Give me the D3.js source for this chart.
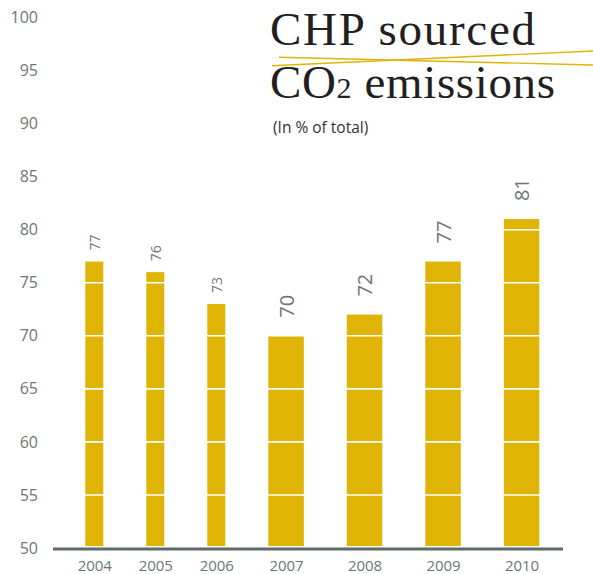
<!DOCTYPE html>
<html><head><meta charset="utf-8">
<script src="https://cdn.jsdelivr.net/npm/d3@7"></script>
<style>body{margin:0;background:#fff}svg{display:block}</style>
</head><body>
<svg id="c" width="593" height="574"></svg>
<script>
// ---- data ----
const years = ["2004","2005","2006","2007","2008","2009","2010"];
const values = [77, 76, 73, 70, 72, 77, 81];
const yTicks = [50, 55, 60, 65, 70, 75, 80, 85, 90, 95, 100];
const titleLine1 = "CHP sourced";
const titleLine2 = ["CO", "2", " emissions"];
const subtitle = "(In % of total)";

// ---- style ----
const barW = [18, 18, 18, 35.5, 35.5, 35.5, 35.5];
const barGap = 43;
const yellow = "#dfb405";
const grey = "#6b7874";
const axisCol = "#5e6b68";

const svg = d3.select("#c");
const y = d3.scaleLinear().domain([50, 100]).range([548, 17.5]);

// cumulative layout: bars separated by a constant gap
const lefts = [];
let acc = 0;
barW.forEach((w, i) => { lefts.push(acc); acc += w + barGap; });
const total = acc - barGap;
const xs = d3.scaleLinear().domain([0, total]).range([85.3, 85.3 + total]);
const xCenter = d3.scaleOrdinal().domain(years).range(years.map((_, i) => xs(lefts[i] + barW[i] / 2)));

// bars
svg.append("g").selectAll("rect").data(values).join("rect")
  .attr("x", (d, i) => xs(lefts[i]))
  .attr("width", (d, i) => barW[i])
  .attr("y", d => y(d))
  .attr("height", d => y(50) - 2 - y(d))
  .attr("fill", yellow);

// white grid lines over bars
svg.append("g").selectAll("line").data(yTicks.filter(t => t > 50 && t < 100)).join("line")
  .attr("x1", 53).attr("x2", 563)
  .attr("y1", d => y(d)).attr("y2", d => y(d))
  .attr("stroke", "#fff").attr("stroke-width", 1.6);

// value labels
svg.append("g").selectAll("text").data(values).join("text")
  .attr("transform", (d, i) => {
    const cx = xCenter(years[i]);
    const off = barW[i] < 30 ? 11 : 18;
    return `translate(${cx},${y(d) - off}) rotate(-90)`;
  })
  .attr("text-anchor", "start")
  .attr("dominant-baseline", "central")
  .attr("font-family", "Open Sans")
  .attr("font-size", (d, i) => barW[i] < 30 ? 14 : 20)
  .attr("fill", grey)
  .text(d => d);

// y axis labels
const yAxis = svg.append("g").attr("transform", "translate(38,0)")
  .call(d3.axisLeft(y).tickValues(yTicks).tickSize(0).tickPadding(0));
yAxis.select(".domain").remove();
yAxis.selectAll("text").attr("font-family", "Open Sans").attr("font-size", 16).attr("fill", grey);

// x axis line
svg.append("line").attr("x1", 53).attr("x2", 563)
  .attr("y1", y(50) + 1).attr("y2", y(50) + 1)
  .attr("stroke", axisCol).attr("stroke-width", 2.8);

// x axis labels
const xAxis = svg.append("g").attr("transform", `translate(0,${y(50) + 9})`)
  .call(d3.axisBottom(xCenter).tickSize(0).tickPadding(0));
xAxis.select(".domain").remove();
xAxis.selectAll("text").attr("font-family", "Open Sans").attr("font-size", 15).attr("fill", grey).attr("dy", "0.9em");

// title
const tt = svg.append("g").attr("font-family", "Liberation Serif").attr("fill", "#231f20");
tt.append("text").attr("x", 270).attr("y", 45).attr("font-size", 47)
  .attr("textLength", 265).attr("lengthAdjust", "spacing").text(titleLine1);
const t2 = tt.append("text").attr("x", 270).attr("y", 98).attr("font-size", 47)
  .attr("textLength", 285).attr("lengthAdjust", "spacing");
t2.append("tspan").text(titleLine2[0]);
t2.append("tspan").attr("font-size", 30).text(titleLine2[1]);
t2.append("tspan").text(titleLine2[2]);

// decorative crossing yellow lines
svg.append("line").attr("x1", 279).attr("y1", 57.3).attr("x2", 593).attr("y2", 65)
  .attr("stroke", yellow).attr("stroke-width", 1.4);
svg.append("line").attr("x1", 272).attr("y1", 65.7).attr("x2", 593).attr("y2", 51)
  .attr("stroke", yellow).attr("stroke-width", 1.4);

// subtitle
svg.append("text").attr("x", 273).attr("y", 133).attr("font-family", "Open Sans")
  .attr("font-size", 15.5).attr("fill", "#333").text(subtitle);
</script>
</body></html>
